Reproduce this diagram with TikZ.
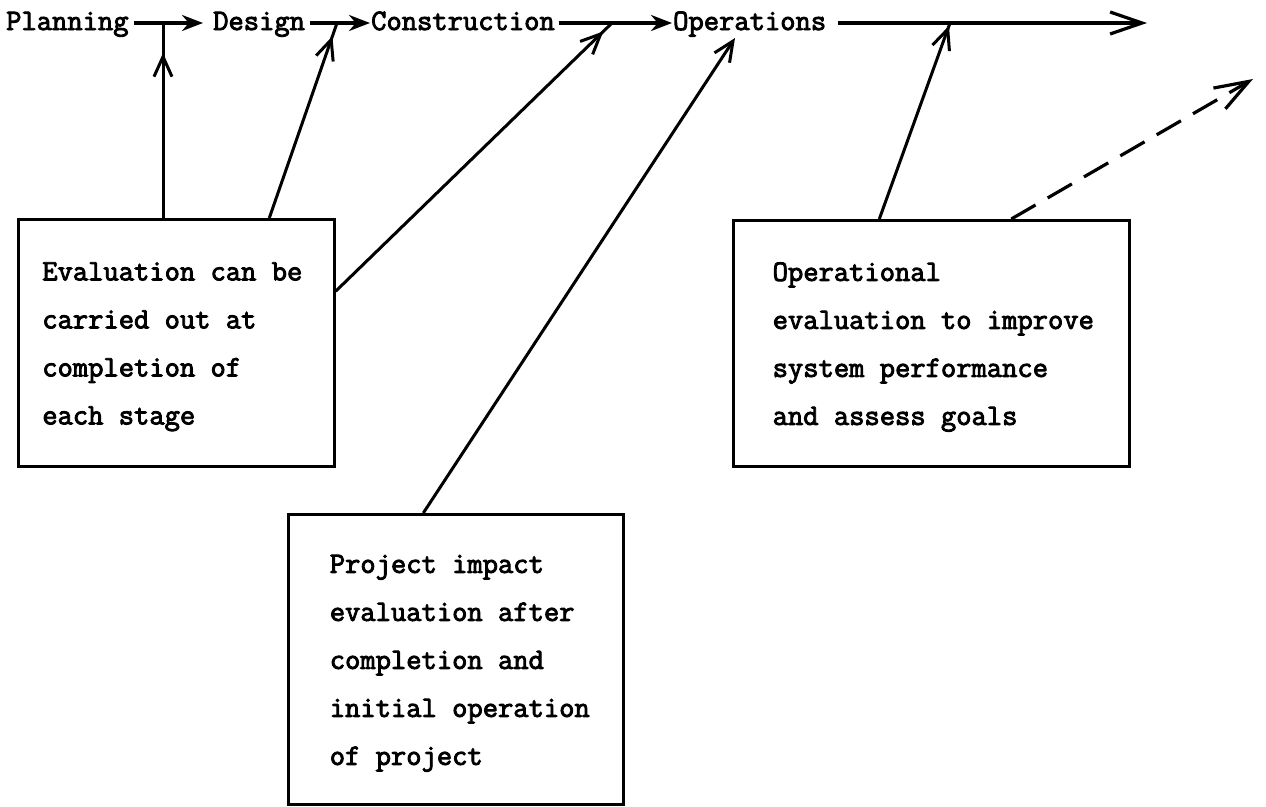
\documentclass[tikz,border=0pt]{standalone}
\usepackage{fontspec}
\newfontfamily\tw[FakeBold=3]{Latin Modern Mono}
\usetikzlibrary{arrows.meta,calc,decorations.markings}
\begin{document}
\begin{tikzpicture}[x=1pt,y=-1pt,
  lab/.style={font=\tw\fontsize{29.7pt}{48pt}\selectfont},
  stage/.style={lab, inner sep=0pt, anchor=base west, text height=19pt, text depth=5pt},
  note/.style={lab, draw, line width=2.6pt, inner sep=0pt, anchor=north west},
  flow/.style={line width=3.2pt, -{Stealth[length=21pt,width=16pt]}},
  barb/.style={-{Straight Barb[length=20pt,width=18pt]}},
  feed/.style={line width=3pt,
    decoration={markings, mark=at position #1 with {\arrow{Straight Barb[length=20pt,width=18pt]}}},
    postaction={decorate}},
  feed/.default=-1pt]
\fill[white] (0,0) rectangle (1266,806);
\useasboundingbox (0,0) rectangle (1266,806);

% stages of the project
\node[stage] (plan) at (6,30) {Planning};
\node[stage] (des) at (213,30) {Design};
\node[stage] (con) at (371,30) {Construction};
\node[stage] (ops) at (673,30) {Operations};
\coordinate (fin) at (1147,23);

\draw[flow, shorten <=5pt, shorten >=10pt] (plan.east) -- (des.west);
\draw[flow, shorten <=5pt, shorten >=1pt] (des.east) -- (con.west);
\draw[flow, shorten <=4pt, shorten >=1pt] (con.east) -- (ops.west);
\draw[line width=3.2pt, -{Straight Barb[length=32pt,width=22pt]}, shorten <=12pt] (ops.east) -- (fin);

% evaluation notes
\node[note, minimum width=316pt, minimum height=247pt] (evalbox) at (17,218)
  {\begin{tabular}{@{}l@{\hspace{8pt}}}Evaluation can be\\carried out at\\completion of\\each stage\end{tabular}};
\node[note, minimum width=396pt, minimum height=246pt] (opbox) at (732,219)
  {\begin{tabular}{@{\hspace{4pt}}l@{}}Operational\\evaluation to improve\\system performance\\and assess goals\end{tabular}};
\node[note, minimum width=335pt, minimum height=290pt] (impbox) at (287,513)
  {\begin{tabular}{@{\hspace{8pt}}l@{}}Project impact\\evaluation after\\completion and\\initial operation\\of project\end{tabular}};

% points where the evaluations feed back into the flow
\coordinate (j1) at (163,23);
\coordinate (j2) at (337,23);
\coordinate (j3) at (612,23);
\coordinate (j4) at (950,23);
\coordinate (opsfoot) at (735,38);
\coordinate (dashend) at (1253,79);

\draw[feed=-30pt] (j1 |- evalbox.north) -- (j1);
\draw[feed=-14pt] ($(evalbox.north)+(93,0)$) -- (j2);
\draw[feed=-12pt] ($(evalbox.east)+(0,-51.5)$) -- (j3);
\draw[line width=3pt, barb] ($(impbox.north)+(-32.5,0)$) -- (opsfoot);
\draw[feed=-3pt] ($(opbox.north)+(-52,0)$) -- (j4);
\draw[line width=3.2pt, dash pattern=on 28pt off 14pt, -{Straight Barb[length=34pt,width=24pt]}]
  ($(opbox.north)+(80,0)$) -- (dashend);
\end{tikzpicture}
\end{document}
